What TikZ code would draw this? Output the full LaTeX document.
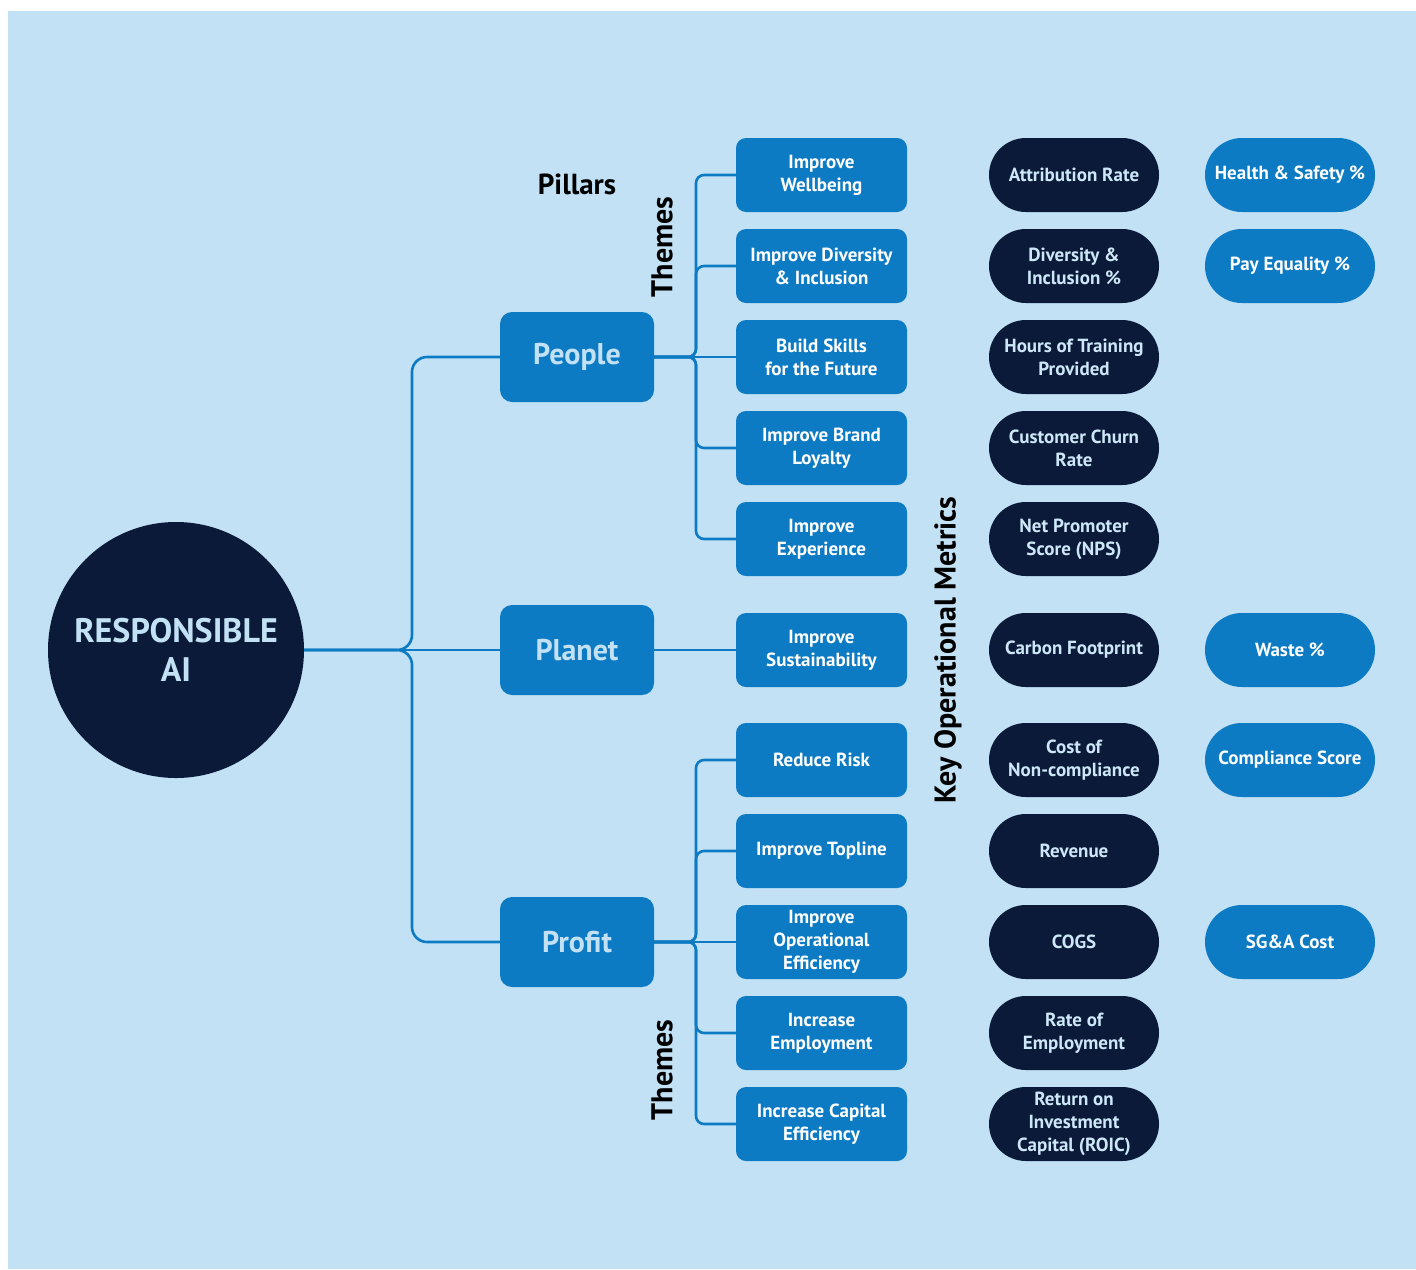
\documentclass[tikz,border=0pt]{standalone}
\usepackage{fontspec}
\setmainfont{PT Sans}
\definecolor{bg}{HTML}{C2E1F5}
\definecolor{mid}{HTML}{0D7BC3}
\definecolor{navy}{HTML}{0A1A38}
\definecolor{ltxt}{HTML}{CDE7F8}
\definecolor{ptxt}{HTML}{C2E1F5}
\begin{document}
\begin{tikzpicture}[x=1pt,y=-1pt,
  conn/.style={draw=mid, line width=2.6pt},
  core/.style={circle, fill=navy, minimum size=256pt, inner sep=0pt, text=ptxt, align=center, font=\fontsize{34}{39}\selectfont\bfseries},
  pillar/.style={rectangle, fill=mid, rounded corners=12pt, minimum width=154pt, minimum height=90pt, inner sep=0pt, text=ptxt, font=\fontsize{30}{34}\selectfont\bfseries},
  theme/.style={rectangle, fill=mid, rounded corners=10pt, minimum width=171pt, minimum height=74pt, inner sep=0pt, text=white, align=center, font=\fontsize{19}{23}\selectfont\bfseries},
  darkpill/.style={rectangle, fill=navy, rounded corners=36.9pt, minimum width=170pt, minimum height=74pt, inner sep=0pt, text=ltxt, align=center, font=\fontsize{19}{23}\selectfont\bfseries},
  lightpill/.style={rectangle, fill=mid, rounded corners=36.9pt, minimum width=170pt, minimum height=74pt, inner sep=0pt, text=white, align=center, font=\fontsize{19}{23}\selectfont\bfseries},
  heading/.style={text=black, font=\fontsize{30}{34}\selectfont\bfseries, inner sep=0pt}
]
\useasboundingbox (0,0) rectangle (1416,1269);
\fill[bg] (8,11) rectangle (1416,1269);

% core and pillars
\node[core] (core) at (176,650) {RESPONSIBLE\\AI};
\node[pillar] (people) at (577,357) {People};
\node[pillar] (planet) at (577,650) {Planet};
\node[pillar] (profit) at (577,942) {Profit};

% headings
\node[heading, font=\fontsize{29}{34}\selectfont\bfseries] (hpillars) at (577,184) {Pillars};
\node[heading, rotate=90] (hthemes1) at (662,247) {Themes};
\node[heading, rotate=90] (hthemes2) at (662,1070) {Themes};
\node[heading, rotate=90] (hkom) at (948,650) {Key Operational Metrics};

% themes
\node[theme] (t1) at (821.5,175) {Improve\\Wellbeing};
\node[theme] (t2) at (821.5,266) {Improve Diversity\\\& Inclusion};
\node[theme] (t3) at (821.5,357) {Build Skills\\for the Future};
\node[theme] (t4) at (821.5,448) {Improve Brand\\Loyalty};
\node[theme] (t5) at (821.5,539) {Improve\\Experience};
\node[theme] (t6) at (821.5,650) {Improve\\Sustainability};
\node[theme] (t7) at (821.5,760) {Reduce Risk};
\node[theme] (t8) at (821.5,851) {Improve Topline};
\node[theme] (t9) at (821.5,942) {Improve\\Operational\\Efficiency};
\node[theme] (t10) at (821.5,1033) {Increase\\Employment};
\node[theme] (t11) at (821.5,1124) {Increase Capital\\Efficiency};

% metrics
\node[darkpill] (m1) at (1074,175) {Attribution Rate};
\node[darkpill] (m2) at (1074,266) {Diversity \&\\Inclusion \%};
\node[darkpill] (m3) at (1074,357) {Hours of Training\\Provided};
\node[darkpill] (m4) at (1074,448) {Customer Churn\\Rate};
\node[darkpill] (m5) at (1074,539) {Net Promoter\\Score (NPS)};
\node[darkpill] (m6) at (1074,650) {Carbon Footprint};
\node[darkpill] (m7) at (1074,760) {Cost of\\Non-compliance};
\node[darkpill] (m8) at (1074,851) {Revenue};
\node[darkpill] (m9) at (1074,942) {COGS};
\node[darkpill] (m10) at (1074,1033) {Rate of\\Employment};
\node[darkpill] (m11) at (1074,1124) {Return on\\Investment\\Capital (ROIC)};

\node[lightpill] (n1) at (1290,175) {Health \& Safety \%};
\node[lightpill] (n2) at (1290,266) {Pay Equality \%};
\node[lightpill] (n6) at (1290,650) {Waste \%};
\node[lightpill] (n7) at (1290,760) {Compliance Score};
\node[lightpill] (n9) at (1290,942) {SG\&A Cost};

% main connectors
\coordinate (mj) at (412,650);
\draw[conn, rounded corners=15pt] (core.east) -- (mj) |- (people.west);
\draw[conn, rounded corners=15pt] (core.east) -- (mj) |- (profit.west);
\draw[conn] (core.east) -- (planet.west);

% people themes
\coordinate (pj) at (696,357);
\foreach \t in {t1,t2,t4,t5}{
  \draw[conn, rounded corners=8pt] (people.east) -- (pj) |- (\t.west);
}
\draw[conn] (people.east) -- (t3.west);

% planet theme
\draw[conn] (planet.east) -- (t6.west);

% profit themes
\coordinate (fj) at (696,942);
\foreach \t in {t7,t8,t10,t11}{
  \draw[conn, rounded corners=8pt] (profit.east) -- (fj) |- (\t.west);
}
\draw[conn] (profit.east) -- (t9.west);
\end{tikzpicture}
\end{document}
